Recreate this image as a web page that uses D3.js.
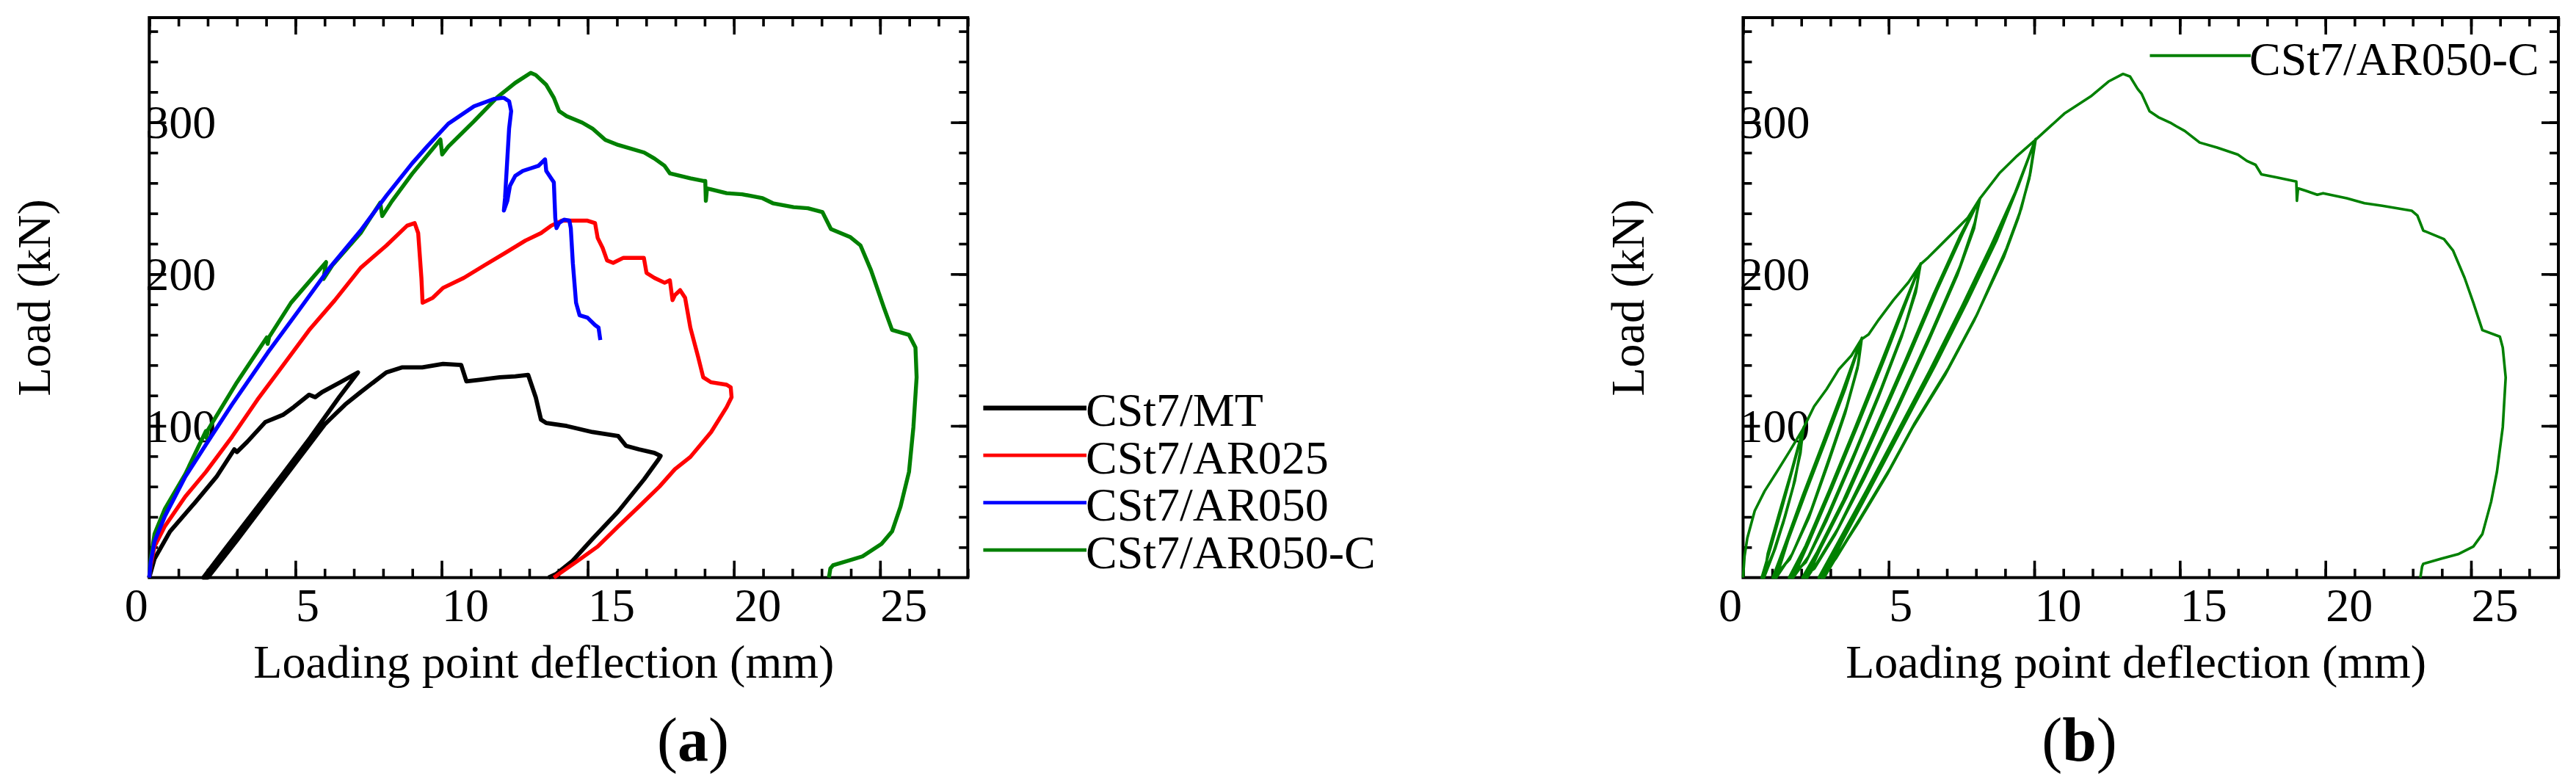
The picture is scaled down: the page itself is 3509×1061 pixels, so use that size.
<!DOCTYPE html>
<html>
<head>
<meta charset="utf-8">
<script src="https://cdn.jsdelivr.net/npm/d3@7"></script>
<style>
  html, body { margin: 0; padding: 0; background: #fff; }
  svg { display: block; }
  text { font-family: "Liberation Serif", "Times New Roman", serif; fill: #000; }
</style>
</head>
<body>
<svg id="chart" width="3509" height="1061"></svg>
<script>
// ---------------- DATA ----------------
const seriesNames = ["CSt7/MT", "CSt7/AR025", "CSt7/AR050", "CSt7/AR050-C"];
const xMajorTicks = [0, 5, 10, 15, 20, 25];
const yMajorTicks = [100, 200, 300];
const xLabel = "Loading point deflection (mm)";
const yLabel = "Load (kN)";
const panelLabels = ["a", "b"];

// Panel (a) series: [deflection mm, load kN]
const mtData = [
  [0,0],[0.18,12.4],[0.71,30.4],[1.59,50.0],[2.30,66.4],[2.91,84.5],[3.00,82.8],[3.35,89.4],
  [3.97,102.5],[4.59,107.4],[4.94,112.3],[5.47,120.5],[5.68,118.9],[5.91,122.2],[6.53,128.7],[7.14,135.2],
  [6.5,119],[5.5,92],[4.5,66.5],[3.5,41.5],[2.6,19],[1.85,0],
  [2.0,0],[3.0,24.5],[4.0,50],[5.0,75.5],[6.0,100.9],[6.17,104.1],[6.7,114],[7.23,122.2],[8.11,135.2],
  [8.64,138.5],[9.34,138.5],[10.05,140.8],[10.67,140.1],[10.85,129.3],[11.29,130.3],[11.99,132.0],
  [12.52,132.6],[12.96,133.6],[13.22,118.9],[13.40,104.1],[13.58,101.9],[14.28,99.9],[15.16,95.9],
  [16.04,93.3],[16.31,86.8],[16.75,84.5],[17.28,82.2],[17.49,80.2],[17.42,77.9],[16.93,64.8],
  [16.04,43.5],[15.16,25.5],[14.46,10.7],[13.93,2.5],[13.66,0]
];
const ar025Data = [
  [0,0],[0.05,8],[0.18,20.5],[0.53,33.7],[1.23,53.3],[1.94,69.7],[2.83,92.7],[3.70,117.2],[4.59,140.2],
  [5.47,163.1],[6.35,182.8],[7.23,204.1],[8.11,218.8],[8.82,231.9],[9.08,233.6],[9.20,227.0],[9.31,197.5],
  [9.35,181.1],[9.70,184.4],[10.05,190.9],[10.76,197.5],[11.46,205.7],[12.17,213.9],[12.87,222.1],
  [13.40,227.0],[13.75,231.9],[14.11,235.2],[14.46,235.2],[14.99,235.2],[15.25,233.6],[15.34,223.8],
  [15.51,217.2],[15.66,209.0],[15.87,207.4],[16.22,210.7],[16.57,210.7],[16.92,210.7],[17.01,200.8],
  [17.28,197.5],[17.63,194.3],[17.81,195.9],[17.90,182.8],[17.98,186.1],[18.16,189.4],[18.33,184.4],
  [18.51,164.7],[18.78,145.1],[18.95,132.0],[19.22,128.7],[19.75,127.1],[19.89,125.4],[19.92,118.9],
  [19.75,112.3],[19.22,95.9],[18.51,79.5],[17.98,71.4],[17.45,59.9],[16.75,46.8],[16.04,33.7],
  [15.34,20.5],[14.63,10.7],[14.02,2.5],[13.84,0]
];
const ar050Data = [
  [0,0],[0.05,10],[0.18,23.8],[0.53,40.2],[1.23,66.4],[1.94,87.7],[2.83,114.0],[4.06,148.4],[5.12,176.2],
  [6.17,204.1],[7.23,228.7],[8.11,251.6],[8.99,272.9],[9.52,284.4],[10.23,299.1],[11.11,310.6],
  [11.81,315.5],[12.13,316.2],[12.31,313.9],[12.38,307.4],[12.31,295.9],[12.24,273.0],[12.17,250.0],
  [12.13,241.8],[12.25,248.4],[12.34,258.2],[12.52,264.7],[12.78,268.0],[13.05,269.7],[13.31,271.3],
  [13.54,275.6],[13.58,268.0],[13.75,263.1],[13.84,260.5],[13.89,236.9],[13.93,230.3],[14.02,233.6],
  [14.19,235.9],[14.37,235.3],[14.42,230.3],[14.49,207.3],[14.60,181.1],[14.72,172.9],[14.99,171.3],
  [15.25,166.4],[15.37,164.7],[15.43,156.6]
];
const ar050cEnvelope = [
  [0,0],[0.05,12],[0.18,28.7],[0.53,45.1],[1.23,68.1],[1.94,96.6],[1.96,92],[2.0,97],[3.00,128.7],
  [4.02,158.2],[4.05,154],[4.10,158.5],[4.85,181.1],[6.05,207.9],[5.96,196.8],[6.26,205.7],[7.23,227.0],
  [7.90,247],[7.97,238.2],[8.3,248],[8.99,266],[9.96,288.7],[10.02,278.8],[10.23,284.0],[11.11,300.7],
  [11.90,316.5],[12.52,326.0],[13.05,332.6],[13.22,331.2],[13.58,324.7],[13.84,316.2],[14.02,307.4],
  [14.28,304.1],[14.81,299.8],[15.16,295.9],[15.60,288.4],[16.04,285.1],[16.93,280.1],[17.28,276.2],
  [17.63,271.3],[17.81,266.4],[18.51,263.1],[18.95,261.4],[19.02,261.4],[19.04,248.3],[19.08,256.5],
  [19.75,253.3],[20.28,252.6],[20.98,250.0],[21.33,246.7],[22.04,244.1],[22.53,243.4],[23.03,240.8],
  [23.32,229.7],[23.97,224.5],[24.33,218.9],[24.69,202.5],[25.13,177.9],[25.41,163.2],[25.99,159.9],
  [26.21,151.7],[26.25,132.0],[26.14,99.2],[25.99,69.7],[25.70,46.8],[25.41,30.4],[25.05,22.2],
  [24.40,14.0],[23.39,8.1],[23.30,6],[23.25,0]
];

// Panel (b): cyclic record of CSt7/AR050-C, in pieces
const cycStart = [[0,0],[0.05,14],[0.145,26],[0.4,44],[0.74,57],[1.17,70],[1.59,83],[2.06,98]];
const cycLevel1 = [
  [1.98,84],[1.75,62],[1.4,38],[1.05,17],[0.68,0],[0.9,18],[1.3,45],[1.7,72],[2.06,98],
  [1.97,82],[1.72,60],[1.38,36],[1.02,15],[0.64,0],[0.95,20],[1.35,47],[1.72,73],[2.08,99],
  [1.99,86],[1.78,64],[1.44,40],[1.1,19],[0.72,0],[0.85,16],[1.25,43],[1.66,70],[2.06,98]
];
const cycRise2 = [[2.44,112.8],[2.87,124.2],[3.29,137.3],[3.72,146.3],[4.06,157]];
const cycLevel2 = [
  [3.95,140],[3.55,112],[2.95,78],[2.3,42],[1.65,14],[1.08,0],[1.5,24],[2.1,55],[2.8,90],[3.45,123],[4.06,157],
  [3.93,138],[3.5,108],[2.9,74],[2.25,39],[1.6,12],[1.02,0],[1.45,22],[2.05,54],[2.75,89],[3.4,122],[4.08,158],
  [3.96,141],[3.6,115],[3.0,81],[2.35,45],[1.7,16],[1.14,0],[1.55,25],[2.15,56],[2.85,91],[3.5,124],[4.06,157]
];
const cycRise3 = [[4.31,160.2],[4.66,170],[5.17,183],[5.68,194.6],[6.09,206.4]];
const cycLevel3 = [
  [5.95,190],[5.5,162],[4.7,122],[3.8,80],[2.9,40],[2.2,12],[1.66,0],[2.2,22],[3.0,58],[3.9,100],[4.8,143],[5.5,178],[6.09,206.4],
  [5.93,188],[5.45,159],[4.65,119],[3.75,77],[2.85,37],[2.15,10],[1.58,0],[2.15,21],[2.95,57],[3.85,99],[4.75,142],[5.45,176],[6.1,207],
  [5.96,192],[5.55,165],[4.75,125],[3.85,83],[2.95,43],[2.25,14],[1.72,0],[2.25,23],[3.05,59],[3.95,101],[4.85,144],[5.55,179],[6.09,206.4]
];
const cycRise4 = [[6.36,211],[6.7,217.5],[7.21,227.3],[7.72,237.2],[8.12,249.4]];
const cycLevel4 = [
  [7.95,232],[7.4,202],[6.4,158],[5.3,112],[4.2,68],[3.2,30],[2.5,8],[2.12,0],[2.6,18],[3.5,52],[4.5,95],[5.6,143],[6.6,188],[7.5,226],[8.12,249.4],
  [7.93,230],[7.35,199],[6.35,155],[5.25,109],[4.15,65],[3.15,28],[2.45,6],[2.04,0],[2.55,17],[3.45,51],[4.45,94],[5.55,142],[6.55,187],[7.45,225],[8.14,250],
  [7.96,234],[7.45,205],[6.45,161],[5.35,115],[4.25,71],[3.25,32],[2.55,10],[2.2,0],[2.65,19],[3.55,53],[4.55,96],[5.65,144],[6.65,189],[7.55,227],[8.12,249.4]
];
const cycRise5 = [[8.8,266.4],[9.41,277.9],[10.03,288.3]];
const cycLevel5 = [
  [9.85,265],[9.5,240],[9.0,214],[8.0,172],[7.0,136],[5.85,100],[5.0,70],[4.0,38],[3.2,13],[2.7,0],
  [3.3,22],[4.3,58],[5.4,98],[6.5,138],[7.6,180],[8.6,220],[9.4,256],[10.03,288.3],
  [9.83,263],[9.45,237],[8.95,211],[7.95,170],[6.95,134],[5.8,98],[4.95,68],[3.95,36],[3.15,12],[2.6,0],
  [3.2,21],[4.2,56],[5.3,96],[6.4,136],[7.5,178],[8.5,218],[9.35,254],[10.05,289],
  [9.87,267],[9.55,243],[9.05,217],[8.05,174],[7.05,138],[5.9,102],[5.05,72],[4.05,40],[3.25,15],[2.78,0],
  [3.4,24],[4.4,60],[5.5,100],[6.6,140],[7.7,182],[8.7,222],[9.45,258],[10.03,288.3]
];
const cycPostPeak = [
  [11.03,305.7],[11.94,317.1],[12.55,326.9],[13.05,331.9],[13.29,330.2],[13.55,322.0],[13.69,318.7],
  [13.96,307.3],[14.26,303.4],[14.67,299.8],[14.87,297.5],[15.17,294.3],[15.68,286.7],[16.28,283.4],
  [16.99,278.8],[17.30,274.6],[17.60,272.0],[17.80,265.7],[18.31,263.8],[18.91,261.4],[19.0,261],
  [19.02,248.3],[19.06,256.5],[19.32,254.9],[19.72,252.3],[19.92,253.3],[20.73,250.0],[21.34,246.7],
  [21.95,245.0],[22.96,241.8],[23.16,238.5],[23.36,228.7],[24.07,223.1],[24.38,215.6],[24.78,197.5],
  [25.08,181.1],[25.39,163.1],[25.99,158.8],[26.09,151.6],[26.19,131.9],[26.09,99.2],[25.89,69.7],
  [25.69,50.0],[25.39,28.7],[25.08,20.5],[24.58,15.6],[23.97,12.4],[23.36,9.1],[23.32,7.4],[23.26,0]
];
const cyclicData = [].concat(cycStart, cycLevel1, cycRise2, cycLevel2, cycRise3, cycLevel3,
  cycRise4, cycLevel4, cycRise5, cycLevel5, cycPostPeak);

// ---------------- STYLE / LAYOUT ----------------
const colors = { "CSt7/MT": "#000000", "CSt7/AR025": "#ff0000", "CSt7/AR050": "#0000ff", "CSt7/AR050-C": "#008000" };
const W = 3509, H = 1061;
const FONT = 64;
const svg = d3.select("#chart");
svg.append("rect").attr("width", W).attr("height", H).attr("fill", "#fff");

const yDomain = [0, 369];
const xDomain = [0, 28];
const plotTop = 24, plotBottom = 786.7;

function drawPanel(left, right, panelLetter, letterX) {
  const x = d3.scaleLinear().domain(xDomain).range([left, right]);
  const y = d3.scaleLinear().domain(yDomain).range([plotBottom, plotTop]);
  const g = svg.append("g");

  const minorX = d3.range(0, 29, 1);
  const minorY = d3.range(20, 369, 20);

  function styleAxis(sel) {
    sel.select(".domain").remove();
    sel.selectAll(".tick line").attr("stroke", "#000").attr("stroke-width", 3.6);
  }
  // minor ticks
  g.append("g").attr("transform", `translate(0,${plotBottom})`)
    .call(d3.axisBottom(x).tickValues(minorX).tickSize(-12).tickFormat("")).call(styleAxis);
  g.append("g").attr("transform", `translate(0,${plotTop})`)
    .call(d3.axisTop(x).tickValues(minorX).tickSize(-12).tickFormat("")).call(styleAxis);
  g.append("g").attr("transform", `translate(${left},0)`)
    .call(d3.axisLeft(y).tickValues(minorY).tickSize(-12).tickFormat("")).call(styleAxis);
  g.append("g").attr("transform", `translate(${right},0)`)
    .call(d3.axisRight(y).tickValues(minorY).tickSize(-12).tickFormat("")).call(styleAxis);

  // major ticks
  const bx = g.append("g").attr("transform", `translate(0,${plotBottom})`)
    .call(d3.axisBottom(x).tickValues(xMajorTicks).tickSize(-23).tickFormat(d3.format("d"))).call(styleAxis);
  bx.selectAll(".tick text")
    .attr("y", 59.3).attr("dy", 0)
    .attr("x", d => d === 0 ? -2 : 0)
    .attr("text-anchor", d => d === 0 ? "end" : "start")
    .style("font-size", FONT + "px").style("font-family", '"Liberation Serif", serif').attr("fill", "#000");
  g.append("g").attr("transform", `translate(0,${plotTop})`)
    .call(d3.axisTop(x).tickValues(xMajorTicks).tickSize(-23).tickFormat("")).call(styleAxis);
  const ly = g.append("g").attr("transform", `translate(${left},0)`)
    .call(d3.axisLeft(y).tickValues(yMajorTicks).tickSize(-23).tickFormat(d3.format("d"))).call(styleAxis);
  ly.selectAll(".tick text")
    .attr("x", 91).attr("y", 21).attr("dy", 0)
    .attr("text-anchor", "end")
    .style("font-size", FONT + "px").style("font-family", '"Liberation Serif", serif').attr("fill", "#000");
  g.append("g").attr("transform", `translate(${right},0)`)
    .call(d3.axisRight(y).tickValues(yMajorTicks).tickSize(-23).tickFormat("")).call(styleAxis);

  // frame
  g.append("rect").attr("x", left).attr("y", plotTop)
    .attr("width", right - left).attr("height", plotBottom - plotTop)
    .attr("fill", "none").attr("stroke", "#000").attr("stroke-width", 4);

  // titles
  g.append("text").attr("x", (left + right) / 2 - 20).attr("y", 923.3)
    .attr("text-anchor", "middle").style("font-size", FONT + "px").text(xLabel);
  g.append("text").attr("transform", `translate(${left - 135.3},${(plotTop + plotBottom) / 2}) rotate(-90)`)
    .attr("text-anchor", "middle").style("font-size", FONT + "px").text(yLabel);
  const pl = g.append("text").attr("x", letterX).attr("y", 1036)
    .attr("text-anchor", "middle").style("font-size", "84px");
  pl.append("tspan").text("(");
  pl.append("tspan").attr("font-weight", "bold").text(panelLetter);
  pl.append("tspan").text(")");

  return { x, y, g };
}

// Panel (a)
const A = drawPanel(203.3, 1318.3, panelLabels[0], 944);
const lineA = d3.line().x(d => A.x(d[0])).y(d => A.y(d[1]));
const seriesA = [
  { name: "CSt7/MT", data: mtData, w: 5.8 },
  { name: "CSt7/AR025", data: ar025Data, w: 5.4 },
  { name: "CSt7/AR050-C", data: ar050cEnvelope, w: 5.4 },
  { name: "CSt7/AR050", data: ar050Data, w: 5.4 }
];
A.g.selectAll("path.series").data(seriesA).enter().append("path")
  .attr("class", "series")
  .attr("d", d => lineA(d.data))
  .attr("fill", "none")
  .attr("stroke", d => colors[d.name])
  .attr("stroke-width", d => d.w)
  .attr("stroke-linejoin", "round");

// Legend (a)
const legA = svg.append("g");
seriesNames.forEach((name, i) => {
  const ly = 555.7 + i * 64.5;
  legA.append("line").attr("x1", 1339.4).attr("x2", 1480).attr("y1", ly).attr("y2", ly)
    .attr("stroke", colors[name]).attr("stroke-width", name === "CSt7/MT" ? 6.5 : 4.8);
  legA.append("text").attr("x", 1479).attr("y", ly + 24.3)
    .style("font-size", FONT + "px").text(name);
});

// Panel (b)
const B = drawPanel(2374.4, 3485, panelLabels[1], 2832.5);
const lineB = d3.line().x(d => B.x(d[0])).y(d => B.y(d[1]));
B.g.append("path").attr("d", lineB(cyclicData))
  .attr("fill", "none").attr("stroke", colors["CSt7/AR050-C"])
  .attr("stroke-width", 3.6).attr("stroke-linejoin", "round");

// Legend (b)
svg.append("line").attr("x1", 2928.5).attr("x2", 3066).attr("y1", 75.8).attr("y2", 75.8)
  .attr("stroke", colors["CSt7/AR050-C"]).attr("stroke-width", 4);
svg.append("text").attr("x", 3064).attr("y", 101.5)
  .style("font-size", FONT + "px").text(seriesNames[3]);
</script>
</body>
</html>
